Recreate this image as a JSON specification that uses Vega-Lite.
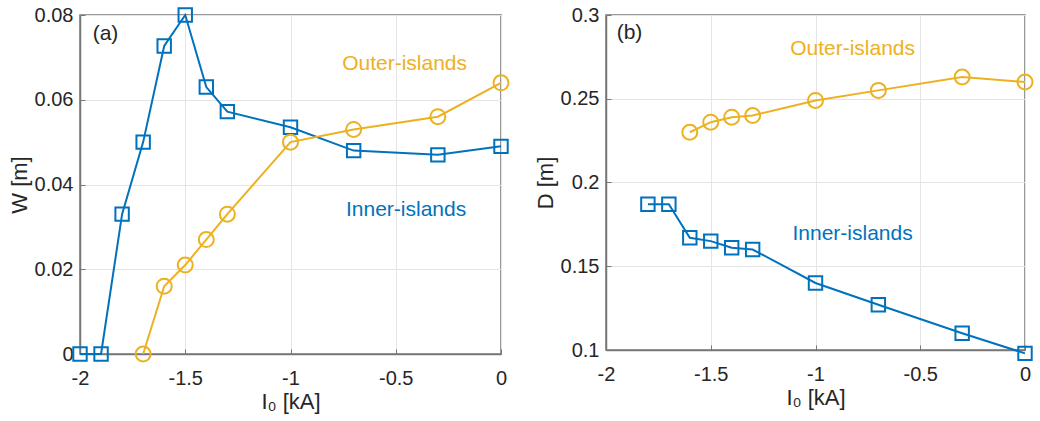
{
  "$schema": "https://vega.github.io/schema/vega-lite/v6.json",
  "padding": {"left": 7, "top": 3, "right": 5, "bottom": 2},
  "background": "white",
  "spacing": 19,
  "config": {
    "font": "Liberation Sans",
    "view": {"stroke": "#777777", "strokeWidth": 1.5},
    "axis": {
      "grid": true,
      "gridColor": "#e4e4e4",
      "gridWidth": 1,
      "domainColor": "#777777",
      "domainWidth": 1.5,
      "tickColor": "#777777",
      "tickSize": -5,
      "labelFontSize": 20,
      "titleFontSize": 22,
      "labelColor": "#262626",
      "titleColor": "#262626",
      "titleFontWeight": "normal",
      "labelFlush": false,
      "labelExpr": "'' + datum.value"
    },
    "axisX": {"titlePadding": 3, "labelPadding": 19},
    "axisY": {"titlePadding": 3, "labelPadding": 12}
  },
  "datasets": {
    "series": [
      {"panel": "a", "series": "Inner-islands", "I0": -2.0, "v": 0.0},
      {"panel": "a", "series": "Inner-islands", "I0": -1.9, "v": 0.0},
      {"panel": "a", "series": "Inner-islands", "I0": -1.8, "v": 0.033},
      {"panel": "a", "series": "Inner-islands", "I0": -1.7, "v": 0.050},
      {"panel": "a", "series": "Inner-islands", "I0": -1.6, "v": 0.0727},
      {"panel": "a", "series": "Inner-islands", "I0": -1.5, "v": 0.080},
      {"panel": "a", "series": "Inner-islands", "I0": -1.4, "v": 0.063},
      {"panel": "a", "series": "Inner-islands", "I0": -1.3, "v": 0.0572},
      {"panel": "a", "series": "Inner-islands", "I0": -1.0, "v": 0.0535},
      {"panel": "a", "series": "Inner-islands", "I0": -0.7, "v": 0.048},
      {"panel": "a", "series": "Inner-islands", "I0": -0.3, "v": 0.047},
      {"panel": "a", "series": "Inner-islands", "I0": 0.0, "v": 0.049},
      {"panel": "a", "series": "Outer-islands", "I0": -1.7, "v": 0.0},
      {"panel": "a", "series": "Outer-islands", "I0": -1.6, "v": 0.016},
      {"panel": "a", "series": "Outer-islands", "I0": -1.5, "v": 0.021},
      {"panel": "a", "series": "Outer-islands", "I0": -1.4, "v": 0.027},
      {"panel": "a", "series": "Outer-islands", "I0": -1.3, "v": 0.033},
      {"panel": "a", "series": "Outer-islands", "I0": -1.0, "v": 0.050},
      {"panel": "a", "series": "Outer-islands", "I0": -0.7, "v": 0.053},
      {"panel": "a", "series": "Outer-islands", "I0": -0.3, "v": 0.056},
      {"panel": "a", "series": "Outer-islands", "I0": 0.0, "v": 0.064},
      {"panel": "b", "series": "Inner-islands", "I0": -1.8, "v": 0.187},
      {"panel": "b", "series": "Inner-islands", "I0": -1.7, "v": 0.187},
      {"panel": "b", "series": "Inner-islands", "I0": -1.6, "v": 0.167},
      {"panel": "b", "series": "Inner-islands", "I0": -1.5, "v": 0.165},
      {"panel": "b", "series": "Inner-islands", "I0": -1.4, "v": 0.161},
      {"panel": "b", "series": "Inner-islands", "I0": -1.3, "v": 0.160},
      {"panel": "b", "series": "Inner-islands", "I0": -1.0, "v": 0.140},
      {"panel": "b", "series": "Inner-islands", "I0": -0.7, "v": 0.127},
      {"panel": "b", "series": "Inner-islands", "I0": -0.3, "v": 0.110},
      {"panel": "b", "series": "Inner-islands", "I0": 0.0, "v": 0.098},
      {"panel": "b", "series": "Outer-islands", "I0": -1.6, "v": 0.230},
      {"panel": "b", "series": "Outer-islands", "I0": -1.5, "v": 0.236},
      {"panel": "b", "series": "Outer-islands", "I0": -1.4, "v": 0.239},
      {"panel": "b", "series": "Outer-islands", "I0": -1.3, "v": 0.240},
      {"panel": "b", "series": "Outer-islands", "I0": -1.0, "v": 0.249},
      {"panel": "b", "series": "Outer-islands", "I0": -0.7, "v": 0.255},
      {"panel": "b", "series": "Outer-islands", "I0": -0.3, "v": 0.263},
      {"panel": "b", "series": "Outer-islands", "I0": 0.0, "v": 0.260}
    ],
    "labels": [
      {"panel": "a", "series": "tag", "text": "(a)", "I0": -1.879, "v": 0.0755},
      {"panel": "a", "series": "Outer-islands", "text": "Outer-islands", "I0": -0.458, "v": 0.0684},
      {"panel": "a", "series": "Inner-islands", "text": "Inner-islands", "I0": -0.451, "v": 0.034},
      {"panel": "b", "series": "tag", "text": "(b)", "I0": -1.888, "v": 0.289},
      {"panel": "b", "series": "Outer-islands", "text": "Outer-islands", "I0": -0.823, "v": 0.2797},
      {"panel": "b", "series": "Inner-islands", "text": "Inner-islands", "I0": -0.823, "v": 0.169}
    ]
  },
  "hconcat": [
    {
      "width": 421,
      "height": 339,
      "encoding": {
        "x": {"field": "I0", "type": "quantitative", "scale": {"domain": [-2, 0], "nice": false},
              "axis": {"title": "I₀ [kA]", "values": [-2, -1.5, -1, -0.5, 0]}},
        "y": {"field": "v", "type": "quantitative", "scale": {"domain": [0, 0.08], "nice": false, "zero": false},
              "axis": {"title": "W [m]", "values": [0, 0.02, 0.04, 0.06, 0.08]}},
        "color": {"field": "series", "type": "nominal",
                  "scale": {"domain": ["Inner-islands", "Outer-islands", "tag"], "range": ["#0072BD", "#EDB120", "#262626"]},
                  "legend": null}
      },
      "layer": [
        {
          "data": {"name": "series"},
          "transform": [{"filter": "datum.panel == 'a'"}],
          "mark": {"type": "line", "strokeWidth": 2, "clip": false}
        },
        {
          "data": {"name": "series"},
          "transform": [{"filter": "datum.panel == 'a'"}],
          "mark": {"type": "point", "filled": false, "strokeWidth": 2, "opacity": 1, "clip": false},
          "encoding": {
            "shape": {"field": "series", "type": "nominal", "scale": {"domain": ["Inner-islands", "Outer-islands"], "range": ["square", "circle"]}, "legend": null},
            "size": {"field": "series", "type": "nominal", "scale": {"domain": ["Inner-islands", "Outer-islands"], "range": [180, 225]}, "legend": null}
          }
        },
        {
          "data": {"name": "labels"},
          "transform": [{"filter": "datum.panel == 'a'"}],
          "mark": {"type": "text", "fontSize": 21, "align": "center", "baseline": "middle"},
          "encoding": {"text": {"field": "text"}}
        }
      ]
    },
    {
      "width": 419,
      "height": 335,
      "encoding": {
        "x": {"field": "I0", "type": "quantitative", "scale": {"domain": [-2, 0], "nice": false},
              "axis": {"title": "I₀ [kA]", "values": [-2, -1.5, -1, -0.5, 0]}},
        "y": {"field": "v", "type": "quantitative", "scale": {"domain": [0.1, 0.3], "nice": false, "zero": false},
              "axis": {"title": "D [m]", "values": [0.1, 0.15, 0.2, 0.25, 0.3]}},
        "color": {"field": "series", "type": "nominal",
                  "scale": {"domain": ["Inner-islands", "Outer-islands", "tag"], "range": ["#0072BD", "#EDB120", "#262626"]},
                  "legend": null}
      },
      "layer": [
        {
          "data": {"name": "series"},
          "transform": [{"filter": "datum.panel == 'b'"}],
          "mark": {"type": "line", "strokeWidth": 2, "clip": false}
        },
        {
          "data": {"name": "series"},
          "transform": [{"filter": "datum.panel == 'b'"}],
          "mark": {"type": "point", "filled": false, "strokeWidth": 2, "opacity": 1, "clip": false},
          "encoding": {
            "shape": {"field": "series", "type": "nominal", "scale": {"domain": ["Inner-islands", "Outer-islands"], "range": ["square", "circle"]}, "legend": null},
            "size": {"field": "series", "type": "nominal", "scale": {"domain": ["Inner-islands", "Outer-islands"], "range": [180, 225]}, "legend": null}
          }
        },
        {
          "data": {"name": "labels"},
          "transform": [{"filter": "datum.panel == 'b'"}],
          "mark": {"type": "text", "fontSize": 21, "align": "center", "baseline": "middle"},
          "encoding": {"text": {"field": "text"}}
        }
      ]
    }
  ]
}
